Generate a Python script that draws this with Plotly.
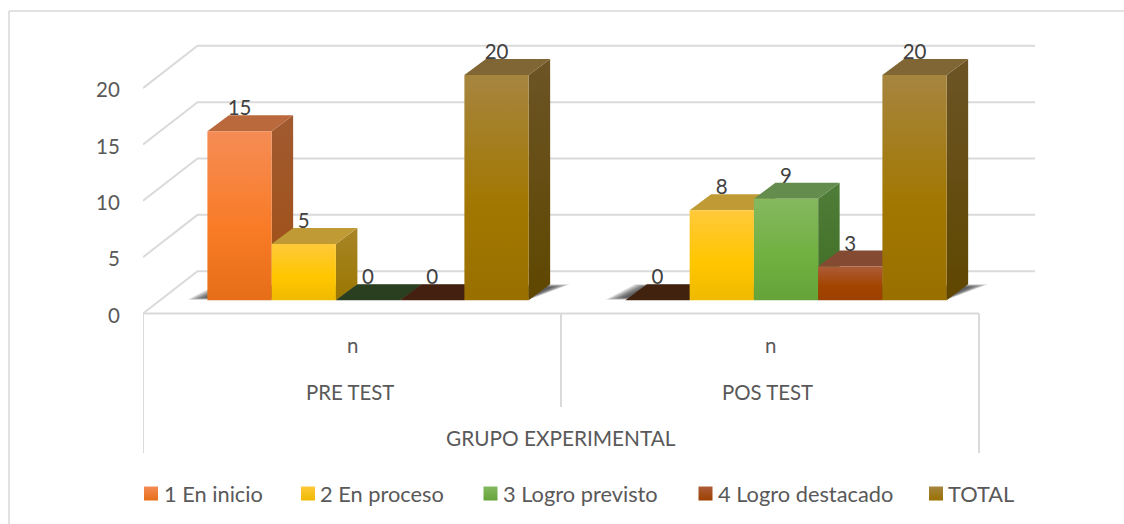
import plotly.graph_objects as go

# ---------- data ----------
groups = ["PRE TEST", "POS TEST"]
subcategory = "n"
outer_category = "GRUPO EXPERIMENTAL"
series_names = ["1 En inicio", "2 En proceso", "3 Logro previsto", "4 Logro destacado", "TOTAL"]
en_inicio = [15, 0]
en_proceso = [5, 8]
logro_previsto = [0, 9]
logro_destacado = [0, 3]
total = [20, 20]
y_ticks = [0, 5, 10, 15, 20]

series_values = [en_inicio, en_proceso, logro_previsto, logro_destacado, total]

# ---------- styles ----------
palette = [
    dict(bot="#E66E18", mid="#F97B26", top="#F58C55", lid="#B9693C", lid0="#40220F", s0="#A04F12", s1="#A15A30"),
    dict(bot="#EFBA00", mid="#FFC600", top="#FFC93A", lid="#BF9A35", lid0="#5A4500", s0="#9A7700", s1="#A88526"),
    dict(bot="#65A33A", mid="#70B040", top="#85B85F", lid="#648C4C", lid0="#2A3F20", s0="#3F6E25", s1="#507D38"),
    dict(bot="#9C4000", mid="#A34400", top="#AC5C38", lid="#844A32", lid0="#43200F", s0="#6E2E00", s1="#7A3A18"),
    dict(bot="#997000", mid="#A27700", top="#A6853F", lid="#806535", lid0="#4A3A10", s0="#5F4700", s1="#6C5426"),
]
GRID = "#DADADA"
AXIS_TEXT = "#595959"
LABEL_TEXT = "#404040"
FONT = "Lato"
W, H = 1124, 524

# pixel scale of the plot
L = 143
FLOOR = 313.5
PX_X = 64.25       # px per bar slot
PX_Y = 11.27       # px per unit of value
CAT_W = 418 / PX_X
GAP = 64.4 / PX_X
FRONT_DY = 13.2 / PX_Y
BACK_DX = 54.5 / PX_X
BACK_DY = 42.3 / PX_Y
DEPTH_X = 21.5 / PX_X
DEPTH_Y = 16.0 / PX_Y
LABEL_DY = 21.0 / PX_Y


def X(px):
    return (px - L) / PX_X


def Y(px):
    return (FLOOR - px) / PX_Y


fig = go.Figure()


def poly(xs, ys, **kw):
    fig.add_trace(go.Scatter(x=xs + xs[:1], y=ys + ys[:1], mode="lines", line=dict(width=0),
                             fill="toself", hoverinfo="skip", showlegend=False, **kw))


# ---------- grid ----------
n_cat = len(groups)
gx, gy = [], []
x_back_end = X(1035)
for t in y_ticks:
    gx += [0, BACK_DX, x_back_end, None]
    gy += [t, t + BACK_DY, t + BACK_DY, None]
gx += [0, n_cat * CAT_W, None]
gy += [0, 0, None]
fig.add_trace(go.Scatter(x=gx, y=gy, mode="lines", line=dict(color=GRID, width=2),
                         hoverinfo="skip", showlegend=False))
sx, sy = [], []
for k in range(n_cat + 1):
    sx += [k * CAT_W, k * CAT_W, None]
    sy += [0, Y(453) if k != 1 else Y(407), None]
fig.add_trace(go.Scatter(x=sx, y=sy, mode="lines", line=dict(color=GRID, width=2),
                         hoverinfo="skip", showlegend=False))

# ---------- soft floor shadows ----------
n_series = len(series_names)
LAYERS = 10
for g in range(n_cat):
    x0 = g * CAT_W + GAP
    x1 = x0 + n_series
    for s in range(LAYERS):
        t = s / LAYERS
        ex = 20 * (1 - t) / PX_X
        bottom = FRONT_DY + (0.5 + 2.5 * t) / PX_Y
        top = FRONT_DY + DEPTH_Y - 3 * t / PX_Y
        poly([x0 - ex, x1, x1 + DEPTH_X + ex, x0 + DEPTH_X - ex * 0.6],
             [bottom, bottom, top, top],
             fillcolor="rgba(30,30,30,0.11)")

# ---------- 3-D bars ----------
lab_x, lab_y, lab_t = [], [], []
for g in range(n_cat):
    x_start = g * CAT_W + GAP
    for i, vals in enumerate(series_values):
        v = vals[g]
        c = palette[i]
        x0, x1 = x_start + i, x_start + i + 1
        y0, y1 = FRONT_DY, FRONT_DY + v
        if v > 0:
            fig.add_trace(go.Scatter(
                x=[x1, x1 + DEPTH_X, x1 + DEPTH_X, x1, x1],
                y=[y0, y0 + DEPTH_Y, y1 + DEPTH_Y, y1, y0],
                mode="lines", line=dict(width=0), fill="toself", hoverinfo="skip", showlegend=False,
                fillgradient=dict(type="vertical",
                                  colorscale=[[0, c["s0"]], [1, c["s1"]]])))
        poly([x0, x1, x1 + DEPTH_X, x0 + DEPTH_X],
             [y1, y1, y1 + DEPTH_Y, y1 + DEPTH_Y],
             fillcolor=c["lid"] if v > 0 else c["lid0"])
        if v > 0:
            fig.add_trace(go.Scatter(
                x=[x0, x1, x1, x0, x0], y=[y0, y0, y1, y1, y0],
                mode="lines", line=dict(width=0), fill="toself",
                name=series_names[i], hoverinfo="name+y", showlegend=False,
                fillgradient=dict(type="vertical",
                                  colorscale=[[0, c["bot"]], [0.42, c["mid"]], [1, c["top"]]])))
        lab_x.append((x0 + x1) / 2)
        lab_y.append(y1 + LABEL_DY)
        lab_t.append(str(v))

fig.add_trace(go.Scatter(x=lab_x, y=lab_y, text=lab_t, mode="text", textposition="middle center",
                         textfont=dict(family=FONT, size=20.5, color=LABEL_TEXT),
                         hoverinfo="skip", showlegend=False))

# ---------- legend ----------
swatch_px = [151, 308, 490.5, 705.5, 936]
text_px = [164, 320, 503, 718, 948]
LEG_Y = Y(493.5)
for i, name in enumerate(series_names):
    c = palette[i]
    fig.add_trace(go.Scatter(
        x=[X(swatch_px[i])], y=[LEG_Y], mode="markers",
        marker=dict(symbol="square", size=14, color=c["top"], line=dict(width=0),
                    gradient=dict(type="vertical", color=c["bot"])),
        hoverinfo="skip", showlegend=False))
    fig.add_annotation(x=X(text_px[i]), y=LEG_Y, text=name, showarrow=False, xanchor="left",
                       yanchor="middle", xshift=-2,
                       font=dict(family=FONT, size=21.8, color=AXIS_TEXT))

# ---------- category labels ----------
for k, name in enumerate(groups):
    centre = (k + 0.5) * CAT_W
    fig.add_annotation(x=centre, y=Y(345), text=subcategory, showarrow=False,
                       font=dict(family=FONT, size=20.5, color=AXIS_TEXT))
    fig.add_annotation(x=centre - 2.5 / PX_X, y=Y(392), text=name, showarrow=False,
                       font=dict(family=FONT, size=20.4, color=AXIS_TEXT))
fig.add_annotation(x=CAT_W, y=Y(437), text=outer_category, showarrow=False,
                   font=dict(family=FONT, size=20.8, color=AXIS_TEXT))

# ---------- chart frame ----------
frame = dict(type="line", xref="paper", yref="paper", line=dict(color="#D9D9D9", width=1.5), layer="below")
px_w = W - L
fig.add_shape(x0=(9 - L) / px_w, x1=(9 - L) / px_w, y0=0, y1=(H - 11) / H, **frame)
fig.add_shape(x0=(9 - L) / px_w, x1=1, y0=(H - 11) / H, y1=(H - 11) / H, **frame)

fig.update_layout(
    width=W, height=H, margin=dict(l=L, r=0, t=0, b=0),
    paper_bgcolor="white", plot_bgcolor="white", showlegend=False,
    xaxis=dict(range=[0, px_w / PX_X], visible=False, fixedrange=True),
    yaxis=dict(range=[Y(H), Y(0)], tickvals=y_ticks, ticktext=[str(t) for t in y_ticks],
               showgrid=False, zeroline=False, showline=False, ticks="outside", ticklen=18,
               tickcolor="rgba(0,0,0,0)", fixedrange=True, ticklabelshift=2,
               tickfont=dict(family=FONT, size=20.5, color=AXIS_TEXT)),
)

fig.write_html("out.html", config=dict(displayModeBar=False),
               post_script="document.body.style.margin='0';document.documentElement.style.overflow='hidden';")
